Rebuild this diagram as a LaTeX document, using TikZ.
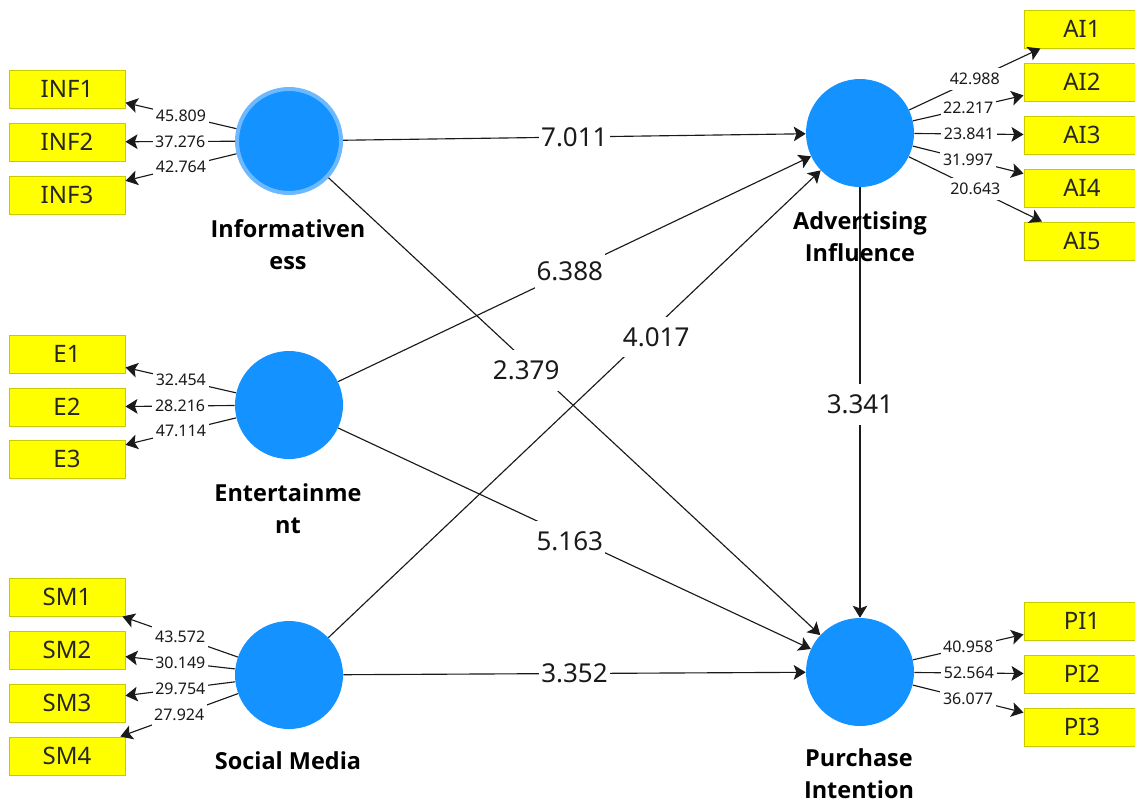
\documentclass[tikz,border=0pt]{standalone}
\usepackage{fontspec}
\setmainfont{Noto Sans}
\newfontfamily\capfont{Open Sans}
\usetikzlibrary{arrows.meta}
\definecolor{lvblue}{HTML}{1492FF}
\definecolor{lvring}{HTML}{6DB9FF}
\definecolor{itemedge}{HTML}{C9C900}
\definecolor{itemfill}{RGB}{255,255,0}
\definecolor{inkdark}{HTML}{1A1A1A}
\definecolor{itemtext}{HTML}{262626}
\tikzset{
  x=0.75pt,y=-0.75pt,
  item/.style={draw=itemedge,line width=0.75pt,fill=itemfill,minimum width=87pt,minimum height=28.5pt,inner sep=0pt,font=\fontsize{18}{20}\selectfont,text=itemtext},
  latent/.style={circle,fill=lvblue,minimum size=81pt,inner sep=0pt},
  ringed/.style={latent,draw=lvring,line width=3pt,minimum size=78pt},
  lvcaption/.style={font=\capfont\bfseries\fontsize{17.6}{24}\selectfont,align=center,text=black,inner sep=0pt},
  link/.style={draw=inkdark,line width=0.85pt,-{Stealth[length=9pt,width=11pt,inset=2pt]}},
  bigval/.style={fill=white,inner xsep=1.5pt,inner ysep=8pt,font=\fontsize{19.5}{21}\selectfont,text=inkdark},
  smallval/.style={fill=white,inner xsep=2pt,inner ysep=4pt,font=\fontsize{12}{13}\selectfont,text=inkdark},
}
\begin{document}
\begin{tikzpicture}
\path[use as bounding box,clip] (0,0) rectangle (1135,801);
\fill[white] (0,0) rectangle (1135,801);
% latent variables
\node[ringed] (inf) at (289,141) {};
\node[latent] (ent) at (289,405) {};
\node[latent] (soc) at (289,675) {};
\node[latent] (adv) at (860,133) {};
\node[latent] (pur) at (860,672) {};
% structural paths
\draw[link] (adv) -- node[bigval,pos=0.505] (v7) {3.341} (pur);
\draw[link] (inf) -- node[bigval,pos=0.5] (v1) {7.011} (adv);
\draw[link] (ent) -- node[bigval,pos=0.49] (v2) {6.388} (adv);
\draw[link] (ent) -- node[bigval,pos=0.49,yshift=-3.75pt] (v3) {5.163} (pur);
\draw[link] (soc) -- node[bigval,pos=0.5] (v4) {3.352} (pur);
\draw[link] (inf) -- node[bigval,pos=0.402,yshift=-6.5pt] (v5) {2.379} (pur);
\draw[link] (soc) -- node[bigval,pos=0.666,yshift=-8pt] (v6) {4.017} (adv);
% captions
\node[lvcaption] (capinf) at (288,244.5) {Informativen\\ess};
\node[lvcaption] (capent) at (288,508.5) {Entertainme\\nt};
\node[lvcaption] (capsoc) at (288,761) {Social Media};
\node[lvcaption] (capadv) at (860,236.5) {Advertising\\Influence};
\node[lvcaption] (cappur) at (859,774) {Purchase\\Intention};
% indicators
\foreach \n/\t/\y in {inf1/INF1/89,inf2/INF2/142,inf3/INF3/195,e1/E1/354,e2/E2/407,e3/E3/459,sm1/SM1/597,sm2/SM2/650,sm3/SM3/703,sm4/SM4/756}
  \node[item] (\n) at (67,\y) {\raisebox{-0.75pt}{\t}};
\foreach \n/\t/\y in {ai1/AI1/29,ai2/AI2/82,ai3/AI3/135,ai4/AI4/188,ai5/AI5/241,pi1/PI1/621,pi2/PI2/674,pi3/PI3/727}
  \node[item] (\n) at (1082,\y) {\raisebox{-0.75pt}{\t}};
% measurement paths
\foreach \a/\b/\v in {inf/inf1/45.809,inf/inf2/37.276,inf/inf3/42.764,ent/e1/32.454,ent/e2/28.216,ent/e3/47.114,soc/sm1/43.572,soc/sm2/30.149,soc/sm3/29.754,soc/sm4/27.924,adv/ai1/42.988,adv/ai2/22.217,adv/ai3/23.841,adv/ai4/31.997,adv/ai5/20.643,pur/pi1/40.958,pur/pi2/52.564,pur/pi3/36.077}
  \draw[link] (\a) -- node[smallval] {\v} (\b);
\end{tikzpicture}
\end{document}
